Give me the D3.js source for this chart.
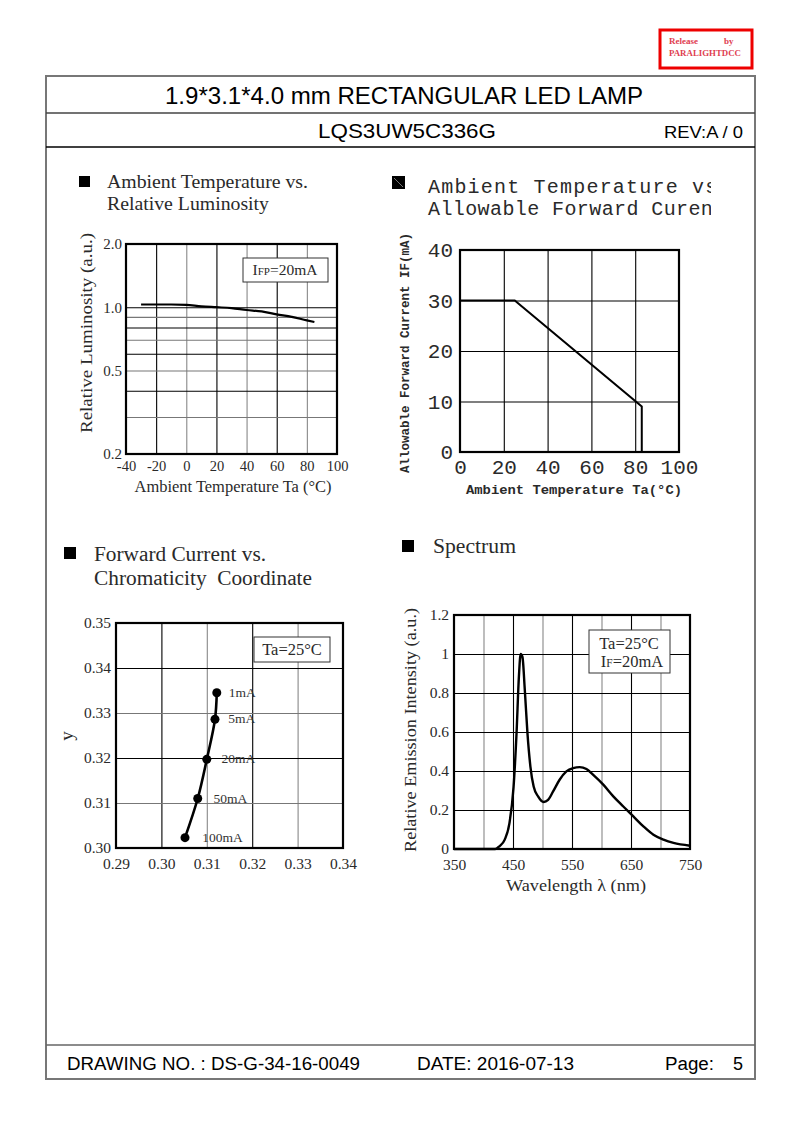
<!DOCTYPE html>
<html><head><meta charset="utf-8">
<script src="https://cdn.jsdelivr.net/npm/d3@7"></script>
<style>
html,body{margin:0;padding:0;background:#fff;}
svg{display:block;}
</style></head>
<body>
<svg id="page" width="793" height="1123"></svg>
<script>
// ---------------- DATA ----------------
// Chart 1: Ambient temperature vs relative luminosity
const lumTemp  = [-30, -20, -10, 0, 10, 20, 30, 40, 50, 60, 70, 80, 85];
const lumValue = [1.03, 1.03, 1.03, 1.025, 1.01, 1.0, 0.99, 0.97, 0.955, 0.925, 0.9, 0.865, 0.85];
const lumXTicks = [-40, -20, 0, 20, 40, 60, 80, 100];
const lumYTicks = [0.2, 0.5, 1.0, 2.0];
const lumYGrid  = [0.3, 0.4, 0.5, 0.6, 0.7, 0.8, 0.9, 1.0];

// Chart 2: Ambient temperature vs allowable forward current
const derTemp    = [0, 25, 83, 83];
const derCurrent = [30, 30, 9, 0];
const derXTicks  = [0, 20, 40, 60, 80, 100];
const derYTicks  = [0, 10, 20, 30, 40];

// Chart 3: Forward current vs chromaticity coordinate
const chromaLabels = ["1mA", "5mA", "20mA", "50mA", "100mA"];
const chromaX = [0.3122, 0.3118, 0.3100, 0.3080, 0.3052];
const chromaY = [0.3345, 0.3286, 0.3197, 0.3110, 0.3023];
const chromaXTicks = [0.29, 0.30, 0.31, 0.32, 0.33, 0.34];
const chromaYTicks = [0.30, 0.31, 0.32, 0.33, 0.34, 0.35];

// Chart 4: Spectrum
const specWl = [350, 400, 420, 427, 436, 444, 451, 456, 460, 463, 466, 470, 474.5, 479.5, 485, 492.5, 502, 509.5, 518, 529, 540.5, 552, 563, 574.5, 586, 603, 620, 637, 654, 671, 688, 705, 722, 750];
const specI  = [0, 0, 0, 0.014, 0.048, 0.133, 0.32, 0.594, 0.884, 1.0, 0.985, 0.816, 0.594, 0.423, 0.32, 0.27, 0.241, 0.252, 0.295, 0.355, 0.398, 0.415, 0.42, 0.41, 0.38, 0.33, 0.27, 0.218, 0.167, 0.116, 0.073, 0.048, 0.031, 0.017];
const specXTicks = [350, 450, 550, 650, 750];
const specXGrid  = [400, 450, 500, 550, 600, 650, 700];
const specYTicks = [0, 0.2, 0.4, 0.6, 0.8, 1.0, 1.2];

// ---------------- DRAWING ----------------
const SERIF = "'Liberation Serif','Times New Roman',serif";
const SANS  = "'Liberation Sans',Arial,sans-serif";
const MONO  = "'Liberation Mono','Courier New',monospace";
const TXT = "#2a2a2a";

const svg = d3.select("#page");
svg.append("rect").attr("width", 793).attr("height", 1123).attr("fill", "#fff");

function txt(parent, x, y, s, font, size, opts = {}) {
  const t = parent.append("text").attr("x", x).attr("y", y)
    .attr("font-family", font).attr("font-size", size).attr("fill", opts.fill || TXT)
    .attr("text-anchor", opts.anchor || "start");
  if (opts.len) t.attr("textLength", opts.len).attr("lengthAdjust", "spacingAndGlyphs");
  if (opts.weight) t.attr("font-weight", opts.weight);
  if (opts.rotate) t.attr("transform", `rotate(-90,${x},${y})`);
  t.text(s);
  return t;
}

// Page frame
const frame = svg.append("g").attr("fill", "none");
frame.append("rect").attr("x", 46).attr("y", 76).attr("width", 709).attr("height", 1003)
  .attr("stroke", "#777").attr("stroke-width", 2);
frame.append("line").attr("x1", 46).attr("x2", 755).attr("y1", 113).attr("y2", 113).attr("stroke", "#444").attr("stroke-width", 1.5);
frame.append("line").attr("x1", 46).attr("x2", 755).attr("y1", 147).attr("y2", 147).attr("stroke", "#000").attr("stroke-width", 1.5);
frame.append("line").attr("x1", 46).attr("x2", 755).attr("y1", 1045).attr("y2", 1045).attr("stroke", "#666").attr("stroke-width", 1.5);

// Stamp
svg.append("rect").attr("x", 660).attr("y", 30).attr("width", 92).attr("height", 38)
  .attr("fill", "#fff").attr("stroke", "#e00").attr("stroke-width", 3);
txt(svg, 669, 44, "Release", SERIF, 9, { fill: "#e04050", weight: "bold" });
txt(svg, 724, 44, "by", SERIF, 9, { fill: "#e04050", weight: "bold" });
txt(svg, 669, 56, "PARALIGHTDCC", SERIF, 9, { fill: "#e04050", weight: "bold", len: 72 });

// Header texts
txt(svg, 165, 104, "1.9*3.1*4.0 mm RECTANGULAR LED LAMP", SANS, 23, { fill: "#000", len: 478 });
txt(svg, 318, 138, "LQS3UW5C336G", SANS, 21, { fill: "#000", len: 178 });
txt(svg, 664, 138, "REV:A / 0", SANS, 17, { fill: "#000", len: 79 });

// Footer
txt(svg, 67, 1070, "DRAWING NO. : DS-G-34-16-0049", SANS, 18, { fill: "#000", len: 293 });
txt(svg, 417, 1070, "DATE: 2016-07-13", SANS, 18, { fill: "#000", len: 157 });
txt(svg, 665, 1070, "Page:", SANS, 18, { fill: "#000", len: 49 });
txt(svg, 743, 1070, "5", SANS, 18, { fill: "#000", anchor: "end" });

// Section headings
function bullet(x, y, size) {
  svg.append("rect").attr("x", x).attr("y", y).attr("width", size).attr("height", size).attr("fill", "#000");
}
bullet(79, 176, 11);
txt(svg, 107, 188, "Ambient Temperature vs.", SERIF, 19, { len: 201 });
txt(svg, 107, 210, "Relative Luminosity", SERIF, 19, { len: 162 });

bullet(392, 176, 13);
svg.append("line").attr("x1", 394).attr("y1", 178).attr("x2", 403).attr("y2", 187).attr("stroke", "#777").attr("stroke-width", 1);
svg.append("clipPath").attr("id", "titleClip").append("rect").attr("x", 420).attr("y", 165).attr("width", 291).attr("height", 60);
const t2 = svg.append("g").attr("clip-path", "url(#titleClip)").attr("font-family", MONO).attr("font-size", 20).attr("fill", TXT);
t2.append("text").attr("x", 428).attr("y", 193).attr("letter-spacing", 1.2).text("Ambient Temperature vs");
t2.append("text").attr("x", 428).attr("y", 215).attr("letter-spacing", 0.4).text("Allowable Forward Curen");

bullet(64, 547, 12);
txt(svg, 94, 561, "Forward Current vs.", SERIF, 20, { len: 172 });
txt(svg, 94, 585, "Chromaticity  Coordinate", SERIF, 20, { len: 218 }).attr("xml:space", "preserve");

bullet(402, 540, 12);
txt(svg, 433, 553, "Spectrum", SERIF, 20, { len: 83 });

// Generic helpers
function gridLines(g, x, y, L, T, R, B, xVals, yVals, xCol, yCol) {
  const gx = g.append("g").attr("transform", `translate(0,${B})`)
    .call(d3.axisBottom(x).tickValues(xVals).tickSize(-(B - T)).tickFormat(""));
  gx.select(".domain").remove();
  gx.selectAll(".tick line").attr("stroke", xCol).attr("stroke-width", 1.1);
  const gy = g.append("g").attr("transform", `translate(${L},0)`)
    .call(d3.axisLeft(y).tickValues(yVals).tickSize(-(R - L)).tickFormat(""));
  gy.select(".domain").remove();
  gy.selectAll(".tick line").attr("stroke", yCol).attr("stroke-width", 1.1);
}
function frameBox(g, L, T, R, B) {
  g.append("rect").attr("x", L).attr("y", T).attr("width", R - L).attr("height", B - T)
    .attr("fill", "none").attr("stroke", "#000").attr("stroke-width", 2.2);
}
function tickAxis(g, axis, tx, ty, font, size, color) {
  const a = g.append("g").attr("transform", `translate(${tx},${ty})`).call(axis.tickSize(0));
  a.select(".domain").remove();
  a.selectAll(".tick line").remove();
  a.selectAll("text").attr("font-family", font).attr("font-size", size).attr("fill", color);
  return a;
}
const alt1 = (d, i) => i % 2 ? "#888" : "#000";
const alt2 = (d, i) => i % 2 ? "#000" : "#777";

// ---------- Chart 1 ----------
{
  const L = 126, R = 337, T = 244, B = 454;
  const g = svg.append("g");
  const x = d3.scaleLinear().domain([-40, 100]).range([L, R]);
  const y = d3.scaleLog().domain([0.2, 2]).range([B, T]);
  gridLines(g, x, y, L, T, R, B, lumXTicks.slice(1, -1), lumYGrid, alt1, alt2);
  g.append("rect").attr("x", 243).attr("y", 258).attr("width", 85).attr("height", 24)
    .attr("fill", "#fff").attr("stroke", "#333").attr("stroke-width", 1);
  const lt = g.append("text").attr("x", 285).attr("y", 275).attr("text-anchor", "middle")
    .attr("font-family", SERIF).attr("font-size", 15.5).attr("fill", TXT);
  lt.append("tspan").text("I");
  lt.append("tspan").attr("font-size", 11).text("FP");
  lt.append("tspan").text("=20mA");
  const line = d3.line().x((d, i) => x(lumTemp[i])).y(d => y(d)).curve(d3.curveMonotoneX);
  g.append("path").attr("d", line(lumValue)).attr("fill", "none").attr("stroke", "#000").attr("stroke-width", 2.2);
  frameBox(g, L, T, R, B);
  tickAxis(g, d3.axisBottom(x).tickValues(lumXTicks).tickFormat(d => String(d)).tickPadding(7), 0, B, SERIF, 14.5, TXT);
  tickAxis(g, d3.axisLeft(y).tickValues(lumYTicks).tickFormat(d3.format(".1f")).tickPadding(4), L, 0, SERIF, 15, TXT);
  txt(g, 92, 333, "Relative Luminosity (a.u.)", SERIF, 17, { anchor: "middle", rotate: true, len: 200 });
  txt(g, 233, 492, "Ambient Temperature Ta (°C)", SERIF, 16, { anchor: "middle", len: 197 });
}

// ---------- Chart 2 ----------
{
  const L = 460, R = 679, T = 250, B = 452;
  const g = svg.append("g");
  const x = d3.scaleLinear().domain([0, 100]).range([L, R]);
  const y = d3.scaleLinear().domain([0, 40]).range([B, T]);
  gridLines(g, x, y, L, T, R, B, derXTicks.slice(1, -1), derYTicks.slice(1, -1), "#000", "#000");
  const line = d3.line().x((d, i) => x(derTemp[i])).y(d => y(d));
  g.append("path").attr("d", line(derCurrent)).attr("fill", "none").attr("stroke", "#000").attr("stroke-width", 2);
  frameBox(g, L, T, R, B);
  tickAxis(g, d3.axisBottom(x).tickValues(derXTicks).tickFormat(d => String(d)).tickPadding(7), 0, B, MONO, 21, TXT);
  tickAxis(g, d3.axisLeft(y).tickValues(derYTicks).tickFormat(d => String(d)).tickPadding(7), L, 0, MONO, 21, TXT);
  txt(g, 574, 494, "Ambient Temperature Ta(°C)", MONO, 13.5, { anchor: "middle", weight: "bold", len: 216 });
  txt(g, 409, 353, "Allowable Forward Current IF(mA)", MONO, 12.5, { anchor: "middle", weight: "bold", rotate: true, len: 240 });
}

// ---------- Chart 3 ----------
{
  const L = 116, R = 343, T = 623, B = 848;
  const g = svg.append("g");
  const x = d3.scaleLinear().domain([0.29, 0.34]).range([L, R]);
  const y = d3.scaleLinear().domain([0.30, 0.35]).range([B, T]);
  gridLines(g, x, y, L, T, R, B, chromaXTicks.slice(1, -1), chromaYTicks.slice(1, -1), alt1, alt2);
  g.append("rect").attr("x", 254).attr("y", 637).attr("width", 76).attr("height", 25)
    .attr("fill", "#fff").attr("stroke", "#333").attr("stroke-width", 1);
  txt(g, 292, 655, "Ta=25°C", SERIF, 16.5, { anchor: "middle" });
  const line = d3.line().x((d, i) => x(chromaX[i])).y(d => y(d)).curve(d3.curveCatmullRom);
  g.append("path").attr("d", line(chromaY)).attr("fill", "none").attr("stroke", "#000").attr("stroke-width", 2.6);
  g.selectAll("circle.pt").data(chromaY).join("circle").attr("class", "pt")
    .attr("cx", (d, i) => x(chromaX[i])).attr("cy", d => y(d)).attr("r", 4.5).attr("fill", "#000");
  g.selectAll("text.lbl").data(chromaLabels).join("text").attr("class", "lbl")
    .attr("x", (d, i) => x(chromaX[i]) + 12 + i * 1.3).attr("y", (d, i) => y(chromaY[i]) + 4)
    .attr("font-family", SERIF).attr("font-size", 13.5).attr("fill", "#333").text(d => d);
  frameBox(g, L, T, R, B);
  tickAxis(g, d3.axisBottom(x).tickValues(chromaXTicks).tickFormat(d3.format(".2f")).tickPadding(10), 0, B, SERIF, 15.5, TXT);
  tickAxis(g, d3.axisLeft(y).tickValues(chromaYTicks).tickFormat(d3.format(".2f")).tickPadding(5), L, 0, SERIF, 15.5, TXT);
  txt(g, 73, 736, "y", SERIF, 19, { anchor: "middle", rotate: true });
}

// ---------- Chart 4 ----------
{
  const L = 454, R = 690, T = 615, B = 849;
  const g = svg.append("g");
  const x = d3.scaleLinear().domain([350, 750]).range([L, R]);
  const y = d3.scaleLinear().domain([0, 1.2]).range([B, T]);
  gridLines(g, x, y, L, T, R, B, specXGrid, specYTicks.slice(1, -1), (d, i) => i % 2 ? "#000" : "#888", "#000");
  g.append("rect").attr("x", 589).attr("y", 630).attr("width", 81).attr("height", 43)
    .attr("fill", "#fff").attr("stroke", "#333").attr("stroke-width", 1);
  txt(g, 629, 649, "Ta=25°C", SERIF, 16.5, { anchor: "middle" });
  const lt = g.append("text").attr("x", 632).attr("y", 667).attr("text-anchor", "middle")
    .attr("font-family", SERIF).attr("font-size", 16.5).attr("fill", TXT);
  lt.append("tspan").text("I");
  lt.append("tspan").attr("font-size", 11.5).text("F");
  lt.append("tspan").text("=20mA");
  const line = d3.line().x((d, i) => x(specWl[i])).y(d => y(d)).curve(d3.curveMonotoneX);
  g.append("path").attr("d", line(specI)).attr("fill", "none").attr("stroke", "#000").attr("stroke-width", 2.4);
  frameBox(g, L, T, R, B);
  tickAxis(g, d3.axisBottom(x).tickValues(specXTicks).tickFormat(d => String(d)).tickPadding(10), 0, B, SERIF, 15.5, TXT);
  tickAxis(g, d3.axisLeft(y).tickValues(specYTicks).tickFormat(d => d === 0 ? "0" : d3.format("~g")(d)).tickPadding(5), L, 0, SERIF, 15.5, TXT);
  txt(g, 416, 730, "Relative Emission Intensity (a.u.)", SERIF, 17, { anchor: "middle", rotate: true, len: 244 });
  txt(g, 576, 891, "Wavelength λ (nm)", SERIF, 17, { anchor: "middle", len: 140 });
}
</script>
</body></html>
